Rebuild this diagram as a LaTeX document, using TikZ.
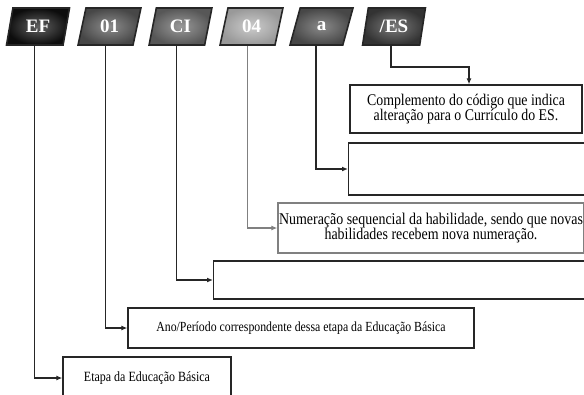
\documentclass[tikz,border=0pt]{standalone}
\usepackage{fontspec}
\setmainfont{Liberation Serif}
\newfontfamily\narrowserif[FakeStretch=0.85]{Liberation Serif}
\usetikzlibrary{shapes.geometric,arrows.meta}
\definecolor{greyline}{HTML}{808080}
\tikzset{
  tag/.style n args={2}{trapezium, trapezium left angle=76, trapezium right angle=104,
    trapezium stretches=true, minimum width=63pt, minimum height=37pt,
    inner sep=0pt, draw=black!85, line width=1.6pt, text=white,
    inner color=#1, outer color=#2,
    font=\fontsize{19}{19}\selectfont\bfseries},
  infobox/.style={draw=black!85, line width=1.3pt, fill=white, align=center,
    inner sep=0pt},
  link/.style={line width=1.5pt, draw=black!85, -{Latex[length=6pt,width=5pt]}},
}
\begin{document}
\begin{tikzpicture}[x=1pt,y=-1pt]
\useasboundingbox (0,0) rectangle (584,394);
\clip (0,0) rectangle (584,394);
% tags
\node[tag={black!62}{black!95}] (ef) at (38,26.5) {EF};
\node[tag={black!45}{black!72}] (t01) at (109.5,26.5) {01};
\node[tag={black!40}{black!66}] (ci) at (180.5,26.5) {CI};
\node[tag={black!20}{black!40}] (t04) at (251.5,26.5) {04};
\node[tag={black!46}{black!72}] (ta) at (321.5,26.5) {a};
\node[tag={black!52}{black!80}] (es) at (394,26.5) {/ES};
% boxes
\node[infobox, minimum width=232pt, minimum height=48pt,
  font=\narrowserif\fontsize{16.3}{15.5}\selectfont] (b1) at (466,109)
  {Complemento do código que indica\\alteração para o Currículo do ES.};
\node[infobox, minimum width=260pt, minimum height=52pt, anchor=west] (b2) at (348,169) {};
\node[infobox, draw=greyline, minimum width=306pt, minimum height=50pt,
  font=\narrowserif\fontsize{16.4}{15.5}\selectfont] (b3) at (431,228)
  {Numeração sequencial da habilidade, sendo que novas\\habilidades recebem nova numeração.};
\node[infobox, minimum width=390pt, minimum height=38pt, anchor=west] (b4) at (213,280) {};
\node[infobox, minimum width=346pt, minimum height=40pt,
  font=\narrowserif\fontsize{13.9}{15}\selectfont] (b5) at (301,328)
  {Ano/Período correspondente dessa etapa da Educação Básica};
\node[infobox, minimum width=168pt, minimum height=42pt,
  font=\narrowserif\fontsize{14.1}{15}\selectfont] (b6) at (147,378)
  {Etapa da Educação Básica};
% connectors
\draw[link] (es.bottom side) -- ++(0,21) -| ([xshift=3pt]b1.north);
\draw[link] (ta.bottom side) |- (b2.west);
\draw[link, draw=greyline, -{Latex[length=6pt,width=5pt,fill=greyline]}] (t04.bottom side) |- (b3.west);
\draw[link] (ci.bottom side) |- (b4.west);
\draw[link] (t01.bottom side) |- (b5.west);
\draw[link] (ef.bottom side) |- (b6.west);
\end{tikzpicture}
\end{document}
